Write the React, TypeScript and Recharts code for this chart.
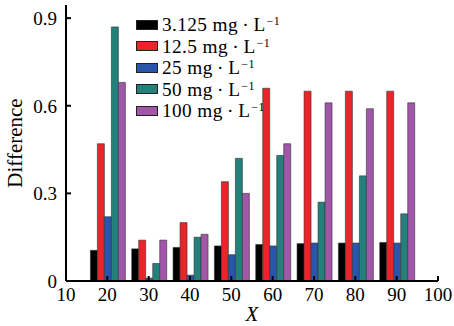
import { BarChart, Bar, XAxis, YAxis } from 'recharts'

const xValues = [20, 30, 40, 50, 60, 70, 80, 90]
const c3125 = [0.105, 0.11, 0.115, 0.12, 0.125, 0.128, 0.13, 0.132]
const c125 = [0.47, 0.14, 0.2, 0.34, 0.66, 0.65, 0.65, 0.65]
const c25 = [0.22, 0.01, 0.02, 0.09, 0.12, 0.13, 0.13, 0.13]
const c50 = [0.87, 0.06, 0.15, 0.42, 0.43, 0.27, 0.36, 0.23]
const c100 = [0.68, 0.14, 0.16, 0.3, 0.47, 0.61, 0.59, 0.61]
const xTicks = [10, 20, 30, 40, 50, 60, 70, 80, 90, 100]
const yTicks = [0, 0.3, 0.6, 0.9]

const SERIES = [
    { key: 'a', label: '3.125', color: '#000000' },
    { key: 'b', label: '12.5', color: '#ea2428' },
    { key: 'c', label: '25', color: '#2a55ad' },
    { key: 'd', label: '50', color: '#23807b' },
    { key: 'e', label: '100', color: '#a057a8' },
]

const data = xValues.map((x, i) => ({
    x,
    a: c3125[i],
    b: c125[i],
    c: c25[i],
    d: c50[i],
    e: c100[i],
}))

const FONT = '"Liberation Serif", "DejaVu Serif", serif'

function LegendBox() {
    return (
        <div style={{
            position: 'absolute', left: 136, top: 14,
            fontFamily: FONT, fontSize: 19.3, letterSpacing: 0.4, color: '#000',
        }}>
            {SERIES.map(s => (
                <div key={s.key} style={{ display: 'flex', alignItems: 'center', whiteSpace: 'nowrap', height: 21.5 }}>
                    <span style={{
                        display: 'inline-block', width: 20, height: 8, background: s.color,
                        border: '1px solid #222', marginRight: 4,
                    }} />
                    <span style={{ display: 'inline-block', height: 21, lineHeight: '21px' }}>
                        {s.label} mg{'\u2009'}·{'\u2009'}L
                        <span style={{
                            display: 'inline-block', verticalAlign: 'top', fontSize: 12,
                            lineHeight: '12px', height: 12, marginLeft: 1, marginTop: 1,
                        }}>−1</span>
                    </span>
                </div>
            ))}
        </div>
    )
}

export default function App() {
    return (
        <div style={{ position: 'relative', width: 454, height: 326, background: '#fff' }}>
            <style>{'body{margin:0}'}</style>
            <BarChart
                width={454}
                height={326}
                data={data}
                margin={{ top: 5, right: 16, bottom: 0, left: 0 }}
                barGap={0}
                barCategoryGap="9%"
            >
                <XAxis
                    dataKey="x"
                    type="number"
                    domain={[10, 100]}
                    ticks={xTicks}
                    allowDataOverflow
                    height={45}
                    stroke="#000"
                    strokeWidth={2}
                    tickSize={-5}
                    tickMargin={12}
                    tick={{ fill: '#000', fontSize: 19, fontFamily: FONT }}
                    label={{ value: 'X', position: 'insideBottom', offset: 5, fill: '#000', fontSize: 21, fontStyle: 'italic', fontFamily: FONT }}
                />
                <XAxis xAxisId="top" orientation="top" type="number" domain={[10, 100]} height={0} tick={false} stroke="#000" strokeWidth={2} />
                <YAxis
                    type="number"
                    domain={[0, 0.945]}
                    ticks={yTicks}
                    allowDataOverflow
                    width={66}
                    stroke="#000"
                    strokeWidth={2}
                    tickSize={-5}
                    tickMargin={14}
                    tickFormatter={(v: number) => (v === 0 ? '0' : v.toFixed(1))}
                    tick={{ fill: '#000', fontSize: 19, fontFamily: FONT }}
                    label={{ value: 'Difference', angle: -90, position: 'insideLeft', offset: 15, fill: '#000', fontSize: 21, fontFamily: FONT, style: { textAnchor: 'middle' } }}
                />
                <YAxis yAxisId="right" orientation="right" width={0} tick={false} stroke="#000" strokeWidth={2} />
                {SERIES.map(s => (
                    <Bar
                        key={s.key}
                        dataKey={s.key}
                        fill={s.color}
                        stroke="#333"
                        strokeWidth={0.6}
                        isAnimationActive={false}
                    />
                ))}
            </BarChart>
            <LegendBox />
        </div>
    )
}
